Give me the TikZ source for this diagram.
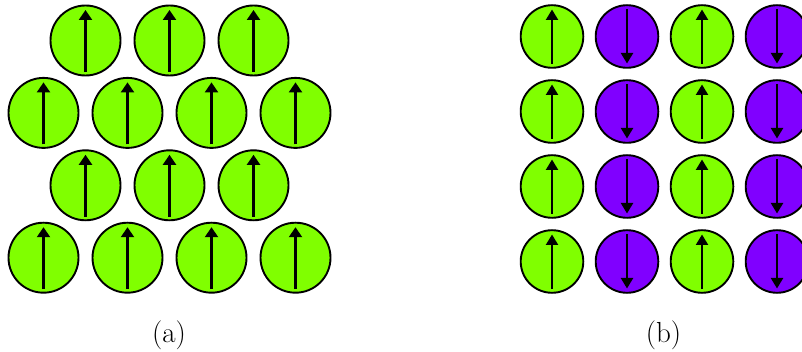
\documentclass[tikz,border=0pt]{standalone}
\usetikzlibrary{arrows.meta}
\definecolor{spinup}{HTML}{80FF00}
\definecolor{spindown}{HTML}{8000FF}
\tikzset{
  bigatom/.style={circle,draw=black,line width=1.9pt,minimum size=70pt,inner sep=0pt},
  smallatom/.style={circle,draw=black,line width=1.9pt,minimum size=62.6pt,inner sep=0pt},
  spinarrow/.style={line width=2.2pt,-{Triangle[width=13pt,length=10pt]}},
  lbl/.style={font=\fontsize{29}{34}\selectfont}
}
\begin{document}
\begin{tikzpicture}[x=1pt,y=-1pt]
\useasboundingbox (0,0) rectangle (802,352);
% panel (a)
\foreach \r/\y in {1/40.5,2/112.9,3/185.3,4/257.7}{
  \ifodd\r
    \foreach \c/\x in {1/85.5,2/169.5,3/253.5}{
      \node[bigatom,fill=spinup] (a\r\c) at (\x,\y) {};
      \draw[spinarrow] ([yshift=-31.5pt]a\r\c.center) -- ([yshift=30.5pt]a\r\c.center);
    }
  \else
    \foreach \c/\x in {1/43.5,2/127.5,3/211.5,4/295.5}{
      \node[bigatom,fill=spinup] (a\r\c) at (\x,\y) {};
      \draw[spinarrow] ([yshift=-31.5pt]a\r\c.center) -- ([yshift=30.5pt]a\r\c.center);
    }
  \fi
}
% panel (b)
\foreach \r/\y in {1/36.5,2/111.5,3/186.5,4/261.5}{
  \foreach \c/\x in {1/552,3/702}{
    \node[smallatom,fill=spinup] (b\r\c) at (\x,\y) {};
    \draw[spinarrow,-{Triangle[width=12pt,length=10.5pt]}] ([yshift=-27.5pt]b\r\c.center) -- ([yshift=27pt]b\r\c.center);
  }
  \foreach \c/\x in {2/627,4/777}{
    \node[smallatom,fill=spindown] (b\r\c) at (\x,\y) {};
    \draw[spinarrow,-{Triangle[width=12pt,length=10.5pt]}] ([yshift=27.5pt]b\r\c.center) -- ([yshift=-27pt]b\r\c.center);
  }
}
\node[lbl] (la) at (169,335) {(a)};
\node[lbl] (lb) at (663.5,335) {(b)};
\end{tikzpicture}
\end{document}
